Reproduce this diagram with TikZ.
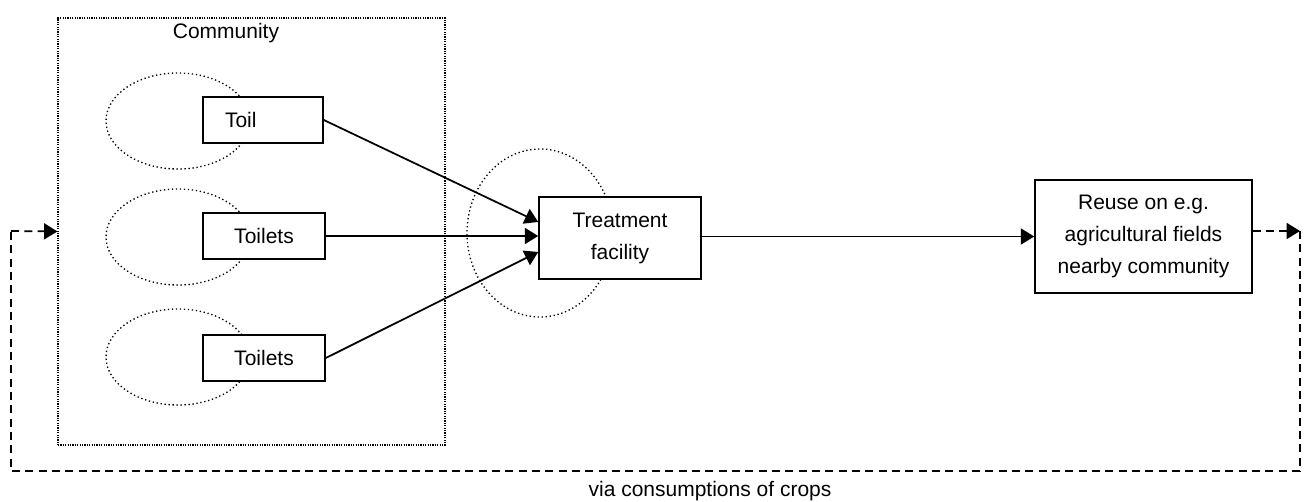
\documentclass[tikz,border=0pt]{standalone}
\usepackage{fontspec}
\setmainfont{Liberation Sans}
\usetikzlibrary{arrows.meta,positioning,shapes.geometric}
\tikzset{
  box/.style={draw, line width=1.2pt, fill=white, align=center, inner sep=0pt},
  blob/.style={draw, ellipse, inner sep=0pt, line width=1pt, dash pattern=on 1pt off 2pt},
  flow/.style={line width=1.3pt, -{Triangle[length=10pt,width=12pt]}},
  dashes/.style={line width=1.3pt, dash pattern=on 6pt off 4pt},
}
\begin{document}
\begin{tikzpicture}[x=0.75pt,y=-0.75pt,font=\fontsize{15.75}{24}\selectfont]
  \useasboundingbox (0,0) rectangle (1307,502);
  % community frame
  \node[draw, line width=0.9pt, dash pattern=on 0.9pt off 0.9pt, minimum width=290.25pt, minimum height=320.25pt] (comm) at (251.5,231.5) {};
  \node (commlabel) at (226,33) {Community};
  % dotted blobs
  \node[blob, minimum width=108pt, minimum height=72pt] (blob1) at (178,121) {};
  \node[blob, minimum width=108pt, minimum height=72pt] (blob2) at (178,237) {};
  \node[blob, minimum width=108pt, minimum height=72pt] (blob3) at (178,357) {};
  \node[blob, minimum width=109.5pt, minimum height=126pt] (blobt) at (540,233) {};
  % toilets
  \node[box, minimum height=34.5pt, text width=57pt, inner xsep=16.5pt, align=left] (toil) at (263,120) {Toil};
  \node[box, minimum width=91.5pt, minimum height=34.5pt] (toilets2) at (264,236) {Toilets};
  \node[box, minimum width=91.5pt, minimum height=34.5pt] (toilets3) at (264,358) {Toilets};
  % treatment and reuse
  \node[box, minimum width=121.5pt, minimum height=61.5pt] (treat) at (620,238) {Treatment\\facility};
  \node[box, minimum width=162.75pt, minimum height=84.75pt] (reuse) at (1143.5,236.5) {Reuse on e.g.\\agricultural fields\\nearby community};
  % flows
  \draw[flow] (toil.east) -- ([yshift=12pt]treat.west);
  \draw[flow] (toilets2.east) -- (toilets2.east -| treat.west);
  \draw[flow] (toilets3.east) -- ([yshift=-10.5pt]treat.west);
  \draw[flow] (treat.east |- reuse.west) -- (reuse.west);
  % loop back to community
  \coordinate (ne) at (1300,231);
  \coordinate (se) at (1300,471);
  \coordinate (sw) at (11,471);
  \coordinate (nw) at (11,231);
  \draw[flow, dashes] (reuse.east |- ne) -- (ne);
  \draw[dashes] (ne) -- (se) -- (sw) -- (nw);
  \draw[flow, dashes] (nw) -- (comm.west);
  \node (via) at (710,491) {via consumptions of crops};
\end{tikzpicture}
\end{document}
